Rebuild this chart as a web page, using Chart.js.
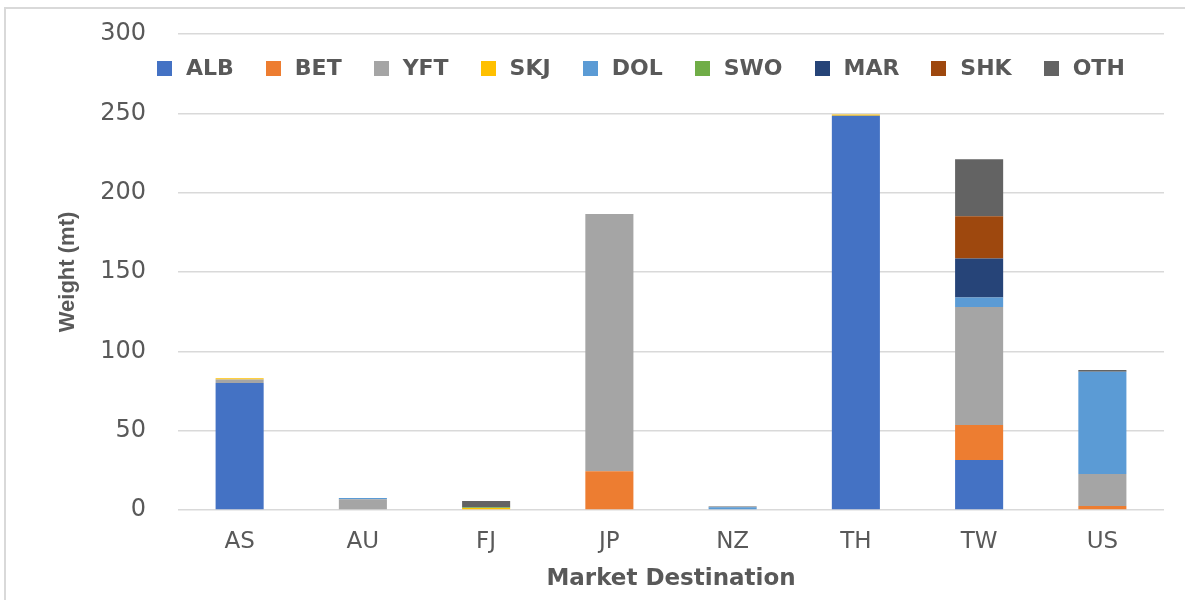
<!DOCTYPE html>
<html>
<head>
<meta charset="utf-8">
<script src="https://cdn.jsdelivr.net/npm/chart.js@4.4.0/dist/chart.umd.min.js"></script>
<style>
    body { margin: 0; background: #ffffff; overflow: hidden; }
    #wrap { position: relative; width: 1185px; height: 600px; overflow: hidden; }
    #frame { position: absolute; left: 4px; top: 7px; width: 1300px; height: 700px; border: 2px solid #d9d9d9; box-sizing: border-box; }
    #chart { position: absolute; left: 0; top: 0; }
    #legend { position: absolute; left: 157px; top: 56px; display: flex; font-family: "DejaVu Sans", sans-serif; font-weight: bold; font-size: 22px; color: #595959; line-height: 24px; }
    #legend .item { display: flex; align-items: center; margin-right: 32px; }
    #legend .box { width: 15px; height: 15px; margin-right: 14px; }
</style>
</head>
<body>
<div id="wrap">
    <div id="frame"></div>
    <canvas id="chart" width="1185" height="600"></canvas>
    <div id="legend"></div>
</div>
<script>
// data pasar tujuan (mt)
const categories = ['AS', 'AU', 'FJ', 'JP', 'NZ', 'TH', 'TW', 'US'];
const seriesNames = ['ALB', 'BET', 'YFT', 'SKJ', 'DOL', 'SWO', 'MAR', 'SHK', 'OTH'];
const seriesColors = ['#4472C4', '#ED7D31', '#A5A5A5', '#FFC000', '#5B9BD5', '#70AD47', '#264478', '#9E480E', '#636363'];

const alb = [80, 0, 0, 0, 0, 248.5, 31.5, 0];
const bet = [0, 0, 0, 24.5, 0, 0, 22, 2.5];
const yft = [2.2, 6.8, 0, 162, 0, 0, 74.5, 20.2];
const skj = [0.8, 0, 1.2, 0, 0, 0.8, 0, 0];
const dol = [0, 0.8, 0, 0, 1.7, 0, 6, 64.4];
const swo = [0, 0, 0.6, 0, 0, 0, 0, 0];
const mar = [0, 0, 0, 0, 0, 0, 24.5, 0];
const shk = [0, 0, 0, 0, 0, 0, 26.7, 0];
const oth = [0, 0, 3.8, 0, 0.5, 0, 35.8, 1.2];

const yTicks = [0, 50, 100, 150, 200, 250, 300];

const seriesValues = [alb, bet, yft, skj, dol, swo, mar, shk, oth];

const datasets = seriesNames.map((name, i) => ({
    label: name,
    data: seriesValues[i],
    backgroundColor: seriesColors[i],
    borderWidth: 0,
    barPercentage: 0.39,
    categoryPercentage: 1.0
}));

// legenda manual (di dalam area chart seperti aslinya)
const legendEl = document.getElementById('legend');
seriesNames.forEach((name, i) => {
    const item = document.createElement('div');
    item.className = 'item';
    item.innerHTML = `<span class="box" style="background:${seriesColors[i]}"></span><span>${name}</span>`;
    legendEl.appendChild(item);
});

const ctx = document.getElementById('chart').getContext('2d');
const chart = new Chart(ctx, {
    type: 'bar',
    data: {
        labels: categories,
        datasets: datasets
    },
    options: {
        responsive: false,
        animation: false,
        layout: {
            padding: { left: 0, right: 21, top: 34, bottom: 0 }
        },
        plugins: {
            legend: { display: false },
            tooltip: { enabled: false }
        },
        scales: {
            x: {
                stacked: true,
                afterFit: (axis) => { axis.height = 90; },
                grid: { display: false },
                border: { display: false },
                ticks: {
                    color: '#595959',
                    padding: 10,
                    font: { family: 'DejaVu Sans', size: 23 }
                },
                title: {
                    display: true,
                    text: 'Market Destination',
                    color: '#595959',
                    padding: { top: 0, bottom: 7 },
                    font: { family: 'DejaVu Sans', size: 23, weight: 'bold' }
                }
            },
            y: {
                stacked: true,
                min: 0,
                max: 300,
                afterBuildTicks: (axis) => {
                    axis.ticks = yTicks.map(v => ({ value: v }));
                },
                afterFit: (axis) => { axis.width = 178; },
                grid: {
                    color: '#d9d9d9',
                    lineWidth: 1.5,
                    drawTicks: true,
                    tickLength: 14,
                    tickColor: 'transparent'
                },
                border: { display: false },
                ticks: {
                    color: '#595959',
                    padding: 18,
                    font: { family: 'DejaVu Sans', size: 24 }
                },
                title: {
                    display: true,
                    text: 'Weight (mt)',
                    color: '#595959',
                    padding: { top: 55, bottom: 0 },
                    font: { family: 'Liberation Sans', size: 22, weight: 'bold' }
                }
            }
        }
    }
});
</script>
</body>
</html>
